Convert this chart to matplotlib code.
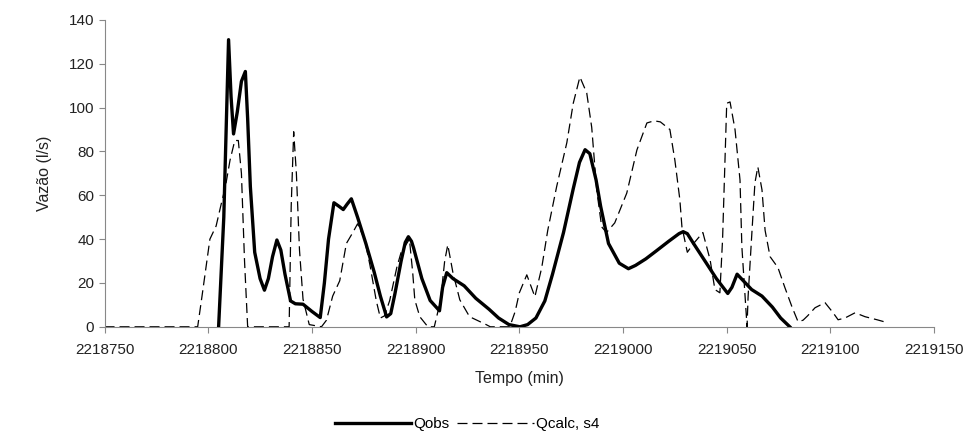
import numpy as np
import matplotlib.pyplot as plt

plt.rcParams['font.family'] = ['Liberation Sans', 'DejaVu Sans']

t0 = 2218750

# Qobs - observed discharge (minutes after t0, l/s)
t_obs = [55, 56, 57.5, 59.8, 61, 62.2, 64, 66, 67.9, 69, 70.3, 72.4, 75, 77.1, 79, 81, 83.1,
         85, 87, 89.7, 92, 95.7, 100, 104, 106, 108, 110.6, 113, 115.1, 117, 119, 122, 126,
         130, 133, 136, 138, 140, 143, 145, 146.5, 148, 149, 153, 157, 161.5, 163, 165, 168,
         173.4, 179, 185.4, 190, 195, 200.3, 204, 208, 212.3, 216, 221.3, 226, 229, 231.7,
         234, 237, 239.2, 243, 248.2, 252.6, 256, 261, 266, 272, 277, 279, 281, 284, 290,
         295, 300.5, 302.5, 305, 308, 312, 317, 322, 326, 330.4]
q_obs = [0, 20, 50, 131, 105, 88, 98, 112, 116.5, 95, 64, 34, 22, 16.7, 22, 32, 39.6,
         35, 24, 11.8, 10.5, 10.3, 7, 4.2, 20, 40, 56.6, 55, 53.5, 56, 58.4, 50, 38,
         25, 14, 4.5, 6, 15, 30, 38.5, 41.1, 39, 36, 22, 12, 7.3, 18, 24.7, 22,
         18.7, 13, 8, 4, 1, 0, 1, 4, 11.8, 24, 43, 63, 75, 80.8,
         79, 67, 55, 38, 29, 26.5, 28, 31, 34.6, 39, 42.5, 43.4, 42.5, 38, 29.3,
         22, 15.2, 18, 24, 21, 17, 14, 9, 4, 0]

# Qcalc, s4 - simulated discharge
t_calc = [0, 44.9, 47, 50.8, 53.8, 56, 58.3, 60.5, 62.8, 64.5, 66, 67.5, 69, 89, 90, 91.2,
          92.5, 94, 95.7, 98.7, 104.6, 107, 110, 113.4, 116.6, 119.7, 122, 125.4, 128,
          131, 133, 135, 137.5, 140.9, 143, 145.7, 147, 148.6, 149.6, 152, 155.9, 159,
          162, 164, 165.5, 168, 171.3, 176, 184, 186, 195.4, 198, 200, 203.6, 207.5,
          210.8, 213.7, 218, 222.9, 226, 229.2, 232.5, 234.9, 237.3, 239.7, 242, 246,
          251.8, 256.7, 261.5, 265, 268, 272.6, 275, 277.4, 278.4, 281, 284, 288.5,
          292, 294.3, 296.7, 298, 300, 301.6, 304, 306.4, 307.3, 309.8, 310.3, 312.2,
          313.6, 315, 317, 318.5, 320.9, 324.7, 328, 331.5, 334.4, 336.8, 339, 342.6,
          347.4, 351.3, 353.7, 357, 361.9, 366.7, 372.5, 377.8]
q_calc = [0, 0, 14, 40, 46, 55, 64, 76, 85, 85, 70, 30, 0, 0, 55, 89,
          70, 35, 12.6, 1, 0, 3, 14, 21, 38, 43, 47, 40, 28,
          12, 4, 5, 12, 27, 34, 38, 40, 24.6, 12.3, 4.6, 0, 0,
          12, 30, 37.4, 24.6, 12.3, 4.6, 1, 0, 0, 7, 15.5, 23.7, 13.7,
          27, 44, 64, 84, 102, 114, 106.7, 91, 62.5, 45.6, 43, 47.4,
          61, 80.7, 93, 94, 93.5, 90, 76, 58, 45.6, 34, 38, 43,
          30.5, 17, 15.5, 40, 102, 102.6, 90, 67, 36.5, 0, 13.7, 44,
          65.7, 73, 62.5, 44, 32, 27, 18, 9, 2.3, 3, 5, 8.7,
          11, 6.4, 3.2, 4, 6.4, 4.6, 3.2, 1.8]

x_ticks = np.arange(t0, t0 + 401, 50)
y_ticks = np.arange(0, 141, 20)

fig = plt.figure(figsize=(9.68, 4.44), dpi=100)
ax = fig.add_axes([0.108, 0.264, 0.857, 0.691])

ax.plot(t0 + np.array(t_obs), q_obs, color='black', lw=2.4,
        solid_joinstyle='round', label='Qobs', zorder=3)
ax.plot(t0 + np.array(t_calc), q_calc, color='black', lw=0.9,
        dashes=(8, 4), label='Qcalc, s4', zorder=2)

ax.set_xlim(t0, t0 + 400)
ax.set_ylim(0, 140)
ax.set_xticks(x_ticks)
ax.set_xticklabels([str(v) for v in x_ticks])
ax.set_yticks(y_ticks)

for s in ['top', 'right']:
    ax.spines[s].set_visible(False)
for s in ['left', 'bottom']:
    ax.spines[s].set_color('#888888')
    ax.spines[s].set_linewidth(0.8)
ax.tick_params(axis='both', colors='#888888', labelcolor='#222222',
               labelsize=11, length=4, width=0.8)
ax.tick_params(axis='x', pad=8)

ax.set_xlabel('Tempo (min)', fontsize=11.5, color='#222222', labelpad=10)
ax.set_ylabel('Vazão (l/s)', fontsize=11.5, color='#222222', labelpad=12)

fig.legend(loc='center', bbox_to_anchor=(467 / 968, 1 - 424 / 444), ncol=2,
           frameon=False, fontsize=11, handlelength=5, handletextpad=0.15,
           columnspacing=0.5)

fig.savefig('out.png', dpi=100)
